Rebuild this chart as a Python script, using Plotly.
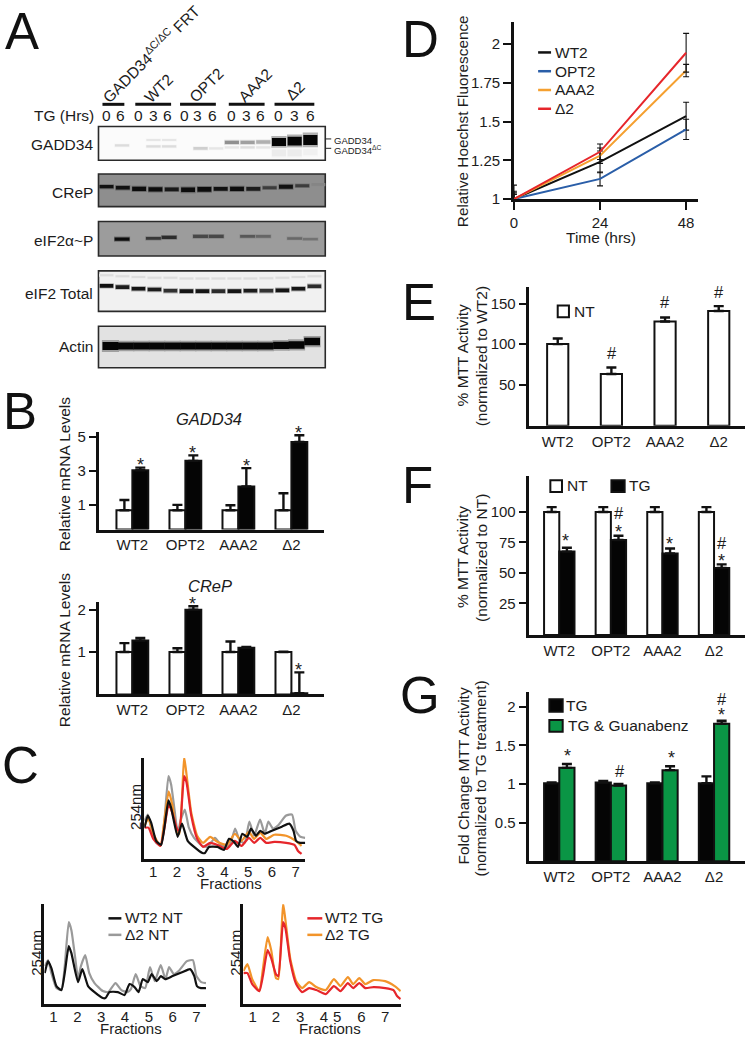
import plotly.graph_objects as go

W, H = 745, 1042
INK = "#1c1c1c"
FONT = "Liberation Sans"

# ---------- Panel A: blots (lane, relative migration, thickness, grey) ----------
g34_lane = [1, 3, 3, 4, 4, 6, 7, 8, 8, 9, 9, 10, 10, 11, 12, 13, 11, 12, 13]
g34_mig = [.56, .40, .59, .40, .59, .65, .65, .47, .62, .47, .62, .46, .62, .46, .43, .40, .78, .78, .76]
g34_thick = [.07, .06, .07, .06, .07, .08, .07, .1, .07, .1, .07, .1, .07, .24, .26, .3, .2, .2, .18]
g34_grey = ["#dcdcdc", "#e6e6e6", "#dcdcdc", "#e6e6e6", "#dcdcdc", "#cfcfcf", "#e6e6e6", "#909090", "#e6e6e6",
            "#a0a0a0", "#dedede", "#b0b0b0", "#e6e6e6", "#050505", "#050505", "#050505", "#ececec", "#ececec",
            "#f1f1f1"]
crep_lane = list(range(14))
crep_mig = [.39, .42, .455, .47, .47, .485, .47, .455, .455, .455, .42, .39, .36, .33]
crep_thick = [.1, .11, .13, .13, .11, .14, .14, .11, .13, .11, .09, .12, .09, .06]
crep_grey = ["#111111", "#111111", "#0c0c0c", "#0c0c0c", "#181818", "#0c0c0c", "#0c0c0c", "#111111", "#0c0c0c",
             "#1c1c1c", "#3c3c3c", "#111111", "#3c3c3c", "#858585"]
ph_lane = [1, 3, 4, 6, 7, 9, 10, 12, 13]
ph_mig = [.51, .49, .46, .43, .43, .43, .43, .49, .51]
ph_thick = [.1, .08, .09, .09, .09, .08, .08, .07, .07]
ph_grey = ["#0c0c0c", "#383838", "#2c2c2c", "#484848", "#484848", "#585858", "#666666", "#686868", "#727272"]
tot_lane = list(range(14)) + [0, 1, 2, 3, 4, 5, 6, 7, 8, 9, 10, 11, 12, 13]
tot_mig = [.37, .40, .44, .46, .49, .50, .50, .50, .50, .49, .49, .48, .44, .38,
           .11, .13, .15, .17, .17, .19, .19, .19, .19, .19, .18, .17, .15, .13]
tot_thick = [.09] * 14 + [.05] * 14
tot_grey = ["#101010", "#1c1c1c", "#151515", "#1c1c1c", "#303030", "#151515", "#151515", "#2c2c2c", "#151515",
            "#1c1c1c", "#333333", "#151515", "#151515", "#2c2c2c"] + ["#dddddd"] * 14
act_lane = list(range(14))
act_mig = [.476, .476, .476, .476, .476, .476, .476, .476, .476, .476, .476, .46, .45, .37]
act_thick = [.19, .17, .17, .17, .17, .17, .17, .17, .17, .17, .17, .17, .18, .18]
act_grey = ["#050505"] * 14

# ---------- Panel B ----------
cats = ["WT2", "OPT2", "AAA2", "Δ2"]
gadd_base = -0.43
gadd_nt = [0.7, 0.7, 0.7, 0.7]
gadd_nt_top = [1.3, 1.02, 1.0, 1.7]
gadd_tg = [3.05, 3.6, 2.1, 4.7]
gadd_tg_top = [3.2, 3.92, 3.17, 5.1]
crep_nt = [1, 1, 1, 1]
crep_nt_top = [1.21, 1.09, 1.25, 1.01]
crep_tg = [1.27, 2.0, 1.1, 0.03]
crep_tg_top = [1.33, 2.08, 1.12, 0.52]

# ---------- Panel C ----------
wt_nt_x = [.63, .77, .91, 1.12, 1.33, 1.47, 1.64, 1.75, 2.03, 2.21, 2.45, 2.72, 3.07, 3.18, 3.35, 3.7, 3.98, 4.19, 4.4,
           4.57, 4.75, 4.96, 5.12, 5.33, 5.51, 5.69, 6.0, 6.42, 6.73, 6.91, 7.02, 7.19, 7.4]
wt_nt_y = [31, 43, 36, 18, 14, 31, 58, 51, 22, 35, 18, 12, 6, 6, 12, 12, 9, 20, 17, 12, 25, 22, 30, 23, 28, 25, 28, 32,
           35, 28, 18, 16, 16]
d2_nt_x = [.63, .77, .91, 1.12, 1.33, 1.47, 1.64, 1.75, 1.9, 2.03, 2.15, 2.33, 2.5, 2.72, 3.07, 3.3, 3.6, 3.85, 4.1,
           4.25, 4.45, 4.65, 4.85, 5.05, 5.25, 5.5, 5.7, 5.85, 6.05, 6.25, 6.6, 6.85, 7.0, 7.2, 7.4]
d2_nt_y = [38, 44, 31, 16, 14, 38, 82, 74, 48, 26, 38, 49, 31, 21, 13, 12, 21, 14, 12, 15, 30, 18, 16, 37, 23, 39, 25,
           37, 30, 33, 43, 44, 28, 22, 21]
wt_tg_x = [.63, .8, 1.0, 1.3, 1.45, 1.65, 1.8, 2.0, 2.1, 2.3, 2.4, 2.6, 2.85, 3.1, 3.4, 3.7, 4.1, 4.44, 4.72, 5.03,
           5.25, 5.51, 5.76, 6.1, 6.6, 6.95, 7.1, 7.25]
wt_tg_y = [31, 31, 20, 13, 28, 54, 46, 30, 28, 82, 76, 43, 20, 12, 16, 14, 10, 18, 13, 21, 16, 21, 16, 17, 16, 14, 8, 5]
d2_tg_x = [.63, .8, 1.0, 1.3, 1.45, 1.65, 1.8, 2.0, 2.1, 2.3, 2.4, 2.6, 2.85, 3.1, 3.4, 3.7, 4.1, 4.44, 4.72, 5.03,
           5.25, 5.51, 5.76, 6.1, 6.6, 7.0, 7.25]
d2_tg_y = [33, 40, 25, 13, 35, 67, 54, 26, 25, 101, 84, 46, 23, 16, 22, 17, 14, 25, 18, 27, 20, 26, 20, 24, 23, 18, 13]
frac_ticks = [1, 2, 3, 4, 5, 6, 7]
frac_ticks_right = [1.02, 2.0, 3.02, 4.02, 4.58, 5.6, 6.6]

# ---------- Panel D ----------
hours = [0, 24, 48]
d_wt2 = [1, 1.24, 1.535]
d_wt2_err = [.05, .07, .09]
d_opt2 = [1, 1.13, 1.45]
d_opt2_err = [.03, .045, .065]
d_aaa2 = [1, 1.28, 1.83]
d_aaa2_err = [.04, .05, .04]
d_del2 = [1, 1.305, 1.945]
d_del2_err = [.09, .05, .125]

# ---------- Panels E, F, G ----------
e_nt = [100, 63, 128, 141]
e_top = [107, 71, 133, 147]
f_nt = [100, 100, 100, 100]
f_nt_top = [104, 104, 104, 104]
f_tg = [67.5, 77, 66, 54]
f_tg_top = [70.7, 80.5, 70, 57]
g_tg = [1.01, 1.02, 1.01, 1.01]
g_tg_top = [1.02, 1.04, 1.02, 1.1]
g_gb = [1.21, .98, 1.18, 1.78]
g_gb_top = [1.26, 1.0, 1.23, 1.82]

fig = go.Figure()
layout = dict(width=W, height=H, autosize=False, margin=dict(l=0, r=0, t=0, b=0, pad=0), paper_bgcolor="white",
              plot_bgcolor="rgba(0,0,0,0)", barmode="overlay", showlegend=False,
              font=dict(family=FONT, size=15, color=INK))
shapes, annos = [], []
n_ax = [0]


def axes(x0, x1, y0, y1, xcfg=None, ycfg=None):
    n_ax[0] += 1
    s = "" if n_ax[0] == 1 else str(n_ax[0])
    xc = dict(domain=[x0 / W, x1 / W], anchor="y" + s, showgrid=False, zeroline=False, fixedrange=True,
              showline=True, linewidth=2.5, linecolor="#111", tickfont=dict(size=15, color=INK, family=FONT), ticks="")
    yc = dict(domain=[1 - y1 / H, 1 - y0 / H], anchor="x" + s, showgrid=False, zeroline=False, fixedrange=True,
              showline=True, linewidth=2.5, linecolor="#111", tickfont=dict(size=15, color=INK, family=FONT),
              ticks="outside", ticklen=8, tickwidth=2, tickcolor="#111")
    xc.update(xcfg or {})
    yc.update(ycfg or {})
    layout["xaxis" + s] = xc
    layout["yaxis" + s] = yc
    return "x" + s, "y" + s


def txt(x, y, s, size=15, anchor="center", angle=0, color=INK):
    annos.append(dict(x=x / W, y=1 - y / H, xref="paper", yref="paper", text=s, showarrow=False, xanchor=anchor,
                      yanchor="middle", textangle=angle, font=dict(size=size, color=color, family=FONT), borderpad=0,
                      borderwidth=0))


def star(x, y):
    # the glyph sits high in its line box: y is where the asterisk itself should appear
    txt(x, y + 4, "*", 18)


def rect(x0, y0, x1, y1, fill, line="#111", lw=2.0, layer="above"):
    shapes.append(dict(type="rect", xref="paper", yref="paper", x0=x0 / W, x1=x1 / W, y0=1 - y0 / H, y1=1 - y1 / H,
                       fillcolor=fill, line=dict(color=line, width=lw), layer=layer))


def seg(x0, y0, x1, y1, color="#111", lw=2.5):
    shapes.append(dict(type="line", xref="paper", yref="paper", x0=x0 / W, x1=x1 / W, y0=1 - y0 / H, y1=1 - y1 / H,
                       line=dict(color=color, width=lw), layer="above"))


def blend(hexa, bg, t):
    a = [int(hexa[i:i + 2], 16) for i in (1, 3, 5)]
    b = [int(bg[i:i + 2], 16) for i in (1, 3, 5)]
    return "#" + "".join(f"{round(p * t + q * (1 - t)):02x}" for p, q in zip(a, b))


def blot(y0, y1, bg, lane_rng, lanes, mig, thick, grey, width):
    xa, ya = axes(95, 323, y0, y1,
                  dict(range=lane_rng, showticklabels=False, showline=False),
                  dict(range=[1, 0], showticklabels=False, showline=False, ticks=""))
    rect(95, y0, 323, y1, bg, "#2a2a2a", 1.6, "below")
    fig.add_trace(go.Bar(x=lanes, base=[m - t * .75 for m, t in zip(mig, thick)], y=[t * 1.5 for t in thick],
                         width=width * 1.08, marker=dict(color=[blend(g, bg, .3) for g in grey], line_width=0),
                         xaxis=xa, yaxis=ya, hoverinfo="skip"))
    fig.add_trace(go.Bar(x=lanes, base=[m - t / 2 for m, t in zip(mig, thick)], y=thick, width=width,
                         marker=dict(color=grey, line_width=0), xaxis=xa, yaxis=ya, hoverinfo="skip"))


blot(124, 158, "#fbfbfb", [-.5, 13.95], g34_lane, g34_mig, g34_thick, g34_grey, .9)
blot(172, 205, "#8e8e8e", [-.49, 13.41], crep_lane, crep_mig, crep_thick, crep_grey, .85)
blot(220, 255, "#9c9c9c", [-.5, 13.95], ph_lane, ph_mig, ph_thick, ph_grey, .95)
blot(270, 311, "#f1f1f1", [-.5, 13.68], tot_lane, tot_mig, tot_thick, tot_grey, .85)
blot(326, 368, "#e2e2e2", [-.77, 13.85], act_lane, act_mig, act_thick, act_grey, 1.02)

for x0, x1 in [(99, 121), (132, 168), (177, 213), (226, 262), (272, 312)]:
    seg(x0, 101.5, x1, 101.5, "#111", 3)
txt(148, 50, "GADD34<sup>ΔC/ΔC</sup> FRT", 15.5, angle=-45)
txt(155, 85, "WT2", 15.5, angle=-45)
txt(203, 82, "OPT2", 15.5, angle=-45)
txt(252, 82, "AAA2", 15.5, angle=-45)
txt(293, 88, "Δ2", 15.5, angle=-45)
txt(90, 113, "TG (Hrs)", 15.5, "right")
for x, s in zip([103, 117, 135, 150, 164, 181, 195, 210, 229, 244, 258, 276, 292, 308], "06036036036036"):
    txt(x, 113, s, 15.5)
for y, s in [(142, "GADD34"), (191, "CReP"), (239, "eIF2α~P"), (293, "eIF2 Total"), (346, "Actin")]:
    txt(89, y, s, 15.5, "right")
txt(332, 138, "GADD34", 9.5, "left")
txt(332, 148, "GADD34<sup>ΔC</sup>", 9.5, "left")
seg(323, 136.5, 329, 136.5, "#222", 1)
seg(323, 146, 329, 146, "#222", 1)


def bars(xa, ya, vals, tops, color, offset, width, base=0, line="#111"):
    fig.add_trace(go.Bar(x=cats, y=[v - base for v in vals], base=base, offset=offset, width=width,
                         marker=dict(color=color, line=dict(color=line, width=2)),
                         error_y=dict(type="data", array=[t - v for t, v in zip(tops, vals)],
                                      arrayminus=[0] * 4, symmetric=False, thickness=2.4, width=5, color="#111"),
                         xaxis=xa, yaxis=ya, hoverinfo="skip", cliponaxis=False))


# B top
xa, ya = axes(96, 322, 433, 531.7, dict(type="category", range=[-.62, 3.62], categoryorder="array", categoryarray=cats),
              dict(range=[gadd_base, 5.29], tickvals=[1, 3, 5], ticktext=["1", "3", "5"]))
bars(xa, ya, gadd_nt, gadd_nt_top, "white", -.3, .3, gadd_base)
bars(xa, ya, gadd_tg, gadd_tg_top, "#050505", 0, .3, gadd_base)
txt(206, 420, "<i>GADD34</i>", 16.5)
txt(61, 476, "Relative mRNA Levels", 15.5, angle=-90)
for x, y in [(137, 462), (190, 450), (244, 463), (296, 430)]:
    star(x, y)

# B bottom
xa, ya = axes(96, 322, 605, 698.5, dict(type="category", range=[-.62, 3.62], categoryorder="array", categoryarray=cats),
              dict(range=[0, 2.18], tickvals=[1, 2], ticktext=["1", "2"]))
bars(xa, ya, crep_nt, crep_nt_top, "white", -.3, .3)
bars(xa, ya, crep_tg, crep_tg_top, "#050505", 0, .3)
txt(207, 589, "<i>CReP</i>", 16.5)
txt(61, 654, "Relative mRNA Levels", 15.5, angle=-90)
star(190, 603)
star(296, 670)


def line(xa, ya, x, y, color, w=2.2):
    fig.add_trace(go.Scatter(x=x, y=y, mode="lines", line=dict(color=color, width=w, shape="spline", smoothing=.5),
                             xaxis=xa, yaxis=ya, hoverinfo="skip", cliponaxis=False))


RED, ORG, GRY = "#e6262b", "#f2942a", "#9a9a9a"
frac = dict(tickvals=frac_ticks, ticktext=[str(t) for t in frac_ticks], ticklabelstandoff=-3,
            tickfont=dict(size=15, color=INK, family=FONT))
ynone = dict(range=[0, 100], showticklabels=False, ticks="")
# C top
xa, ya = axes(141, 303, 762.7, 865, dict(range=[.62, 7.41], **frac), ynone)
line(xa, ya, d2_nt_x, d2_nt_y, GRY)
line(xa, ya, d2_tg_x, d2_tg_y, ORG)
line(xa, ya, wt_tg_x, wt_tg_y, RED)
line(xa, ya, wt_nt_x, wt_nt_y, "#111")
txt(132, 812, "254nm", 15, angle=-90)
txt(228, 890, "Fractions", 15)
# C left
xa, ya = axes(40.7, 203.3, 910.7, 1011.7, dict(range=[.62, 7.41], **frac), ynone)
line(xa, ya, d2_nt_x, d2_nt_y, GRY)
line(xa, ya, wt_nt_x, wt_nt_y, "#111")
txt(33, 960, "254nm", 15, angle=-90)
txt(128, 1036, "Fractions", 15)
seg(105, 925, 118, 925, "#111", 2.5)
seg(105, 941.7, 118, 941.7, GRY, 2.5)
txt(122, 924, "WT2 NT", 15.5, "left")
txt(122, 941, "Δ2 NT", 15.5, "left")
# C right
xa, ya = axes(240.7, 399, 910.7, 1011.7,
              dict(range=[.63, 7.26], tickvals=frac_ticks_right, ticktext=[str(t) for t in frac_ticks],
                   ticklabelstandoff=-3, tickfont=dict(size=15, color=INK, family=FONT)), ynone)
line(xa, ya, d2_tg_x, d2_tg_y, ORG)
line(xa, ya, wt_tg_x, wt_tg_y, RED)
txt(233, 960, "254nm", 15, angle=-90)
txt(328, 1036, "Fractions", 15)
seg(305, 925, 320, 925, RED, 2.5)
seg(305, 941.7, 320, 941.7, ORG, 2.5)
txt(323, 924, "WT2 TG", 15.5, "left")
txt(323, 941, "Δ2 TG", 15.5, "left")

# D
BLU = "#2a5ea8"
xa, ya = axes(512.7, 697.7, 18, 197.3,
              dict(range=[0, 51.3], tickvals=hours, ticktext=[str(h) for h in hours], ticks="outside", ticklen=8,
                   tickwidth=2, tickcolor="#111"),
              dict(range=[1, 2.145], tickvals=[1, 1.25, 1.5, 1.75, 2], ticktext=["1", "1.25", "1.5", "1.75", "2"]))
for yv, err, col in [(d_wt2, d_wt2_err, "#111"), (d_opt2, d_opt2_err, BLU), (d_aaa2, d_aaa2_err, "#f5a030"),
                     (d_del2, d_del2_err, RED)]:
    fig.add_trace(go.Scatter(x=hours, y=yv, mode="lines", line=dict(color=col, width=2),
                             error_y=dict(type="data", array=err, thickness=1.1, width=3, color="#111"),
                             xaxis=xa, yaxis=ya, hoverinfo="skip", cliponaxis=False))
for y, col, s in [(49, "#111", "WT2"), (68, BLU, "OPT2"), (87, "#f5a030", "AAA2"), (106, RED, "Δ2")]:
    seg(537, y, 550, y, col, 2.5)
    txt(554, y, s, 15.5, "left")
txt(461, 119, "Relative Hoechst Fluorescence", 15.3, angle=-90)
txt(600, 236, "Time (hrs)", 15.5)

# E
cat_e = dict(type="category", categoryorder="array", categoryarray=cats)
xa, ya = axes(528.3, 745, 286, 426.7, dict(range=[-.526, 3.49], **cat_e),
              dict(range=[-1, 171], tickvals=[50, 100, 150], ticktext=["50", "100", "150"]))
bars(xa, ya, e_nt, e_top, "white", -.197, .395, -1)
rect(556.7, 305, 568, 317, "white")
txt(573, 311, "NT", 15.5, "left")
txt(461, 356, "% MTT Activity", 15.5, angle=-90)
txt(480, 356, "(normalized to WT2)", 15.5, angle=-90)
for x, y in [(611, 352.7), (664.7, 301), (719, 291.7)]:
    txt(x, y, "#", 16.5)

# F
xa, ya = axes(528.3, 745, 477, 638.3, dict(range=[-.578, 3.6], **cat_e),
              dict(range=[-1, 130], tickvals=[25, 50, 75, 100], ticktext=["25", "50", "75", "100"]))
bars(xa, ya, f_nt, f_nt_top, "white", -.295, .295, -1)
bars(xa, ya, f_tg, f_tg_top, "#050505", 0, .295, -1)
rect(549.3, 481.7, 561, 493.7, "white")
txt(566, 487, "NT", 15.5, "left")
rect(610.7, 481.7, 624, 493.7, "#050505")
txt(628, 487, "TG", 15.5, "left")
txt(461, 560, "% MTT Activity", 15.5, angle=-90)
txt(480, 560, "(normalized to NT)", 15.5, angle=-90)
for x, y in [(565, 539), (618, 530), (669, 542), (721.7, 559)]:
    star(x, y)
txt(618, 515, "#", 16.5)
txt(721.7, 545, "#", 16.5)

# G
GRN = "#0a9545"
xa, ya = axes(528.3, 745, 695.7, 867.3, dict(range=[-.578, 3.6], **cat_e),
              dict(range=[0, 2.196], tickvals=[.5, 1, 1.5, 2], ticktext=["0.5", "1", "1.5", "2"]))
bars(xa, ya, g_tg, g_tg_top, "#050505", -.295, .295)
bars(xa, ya, g_gb, g_gb_top, GRN, 0, .295)
rect(548.3, 703.3, 561.7, 716, "#050505")
txt(565, 710, "TG", 15.5, "left")
rect(548.3, 724.3, 561.7, 736.3, GRN)
txt(566.7, 730, "TG &amp; Guanabenz", 15.5, "left")
txt(461, 781, "Fold Change MTT Activity", 15.5, angle=-90)
txt(480, 783, "(normalized to TG treatment)", 15.3, angle=-90)
for x, y in [(566.7, 757), (670.7, 759), (721.7, 715)]:
    star(x, y)
txt(619, 776, "#", 16.5)
txt(721.7, 702.7, "#", 16.5)

# panel letters
for x, y, s in [(18, 28, "A"), (16, 412, "B"), (17, 770, "C"), (419, 36, "D"), (417, 302, "E"), (416, 487, "F"),
                (418, 700, "G")]:
    txt(x, y, s, 51, color="#111")

layout["shapes"] = shapes
layout["annotations"] = annos
fig.update_layout(**layout)
fig.write_html("out.html", config={"displayModeBar": False},
               post_script="document.body.style.margin='0';")
